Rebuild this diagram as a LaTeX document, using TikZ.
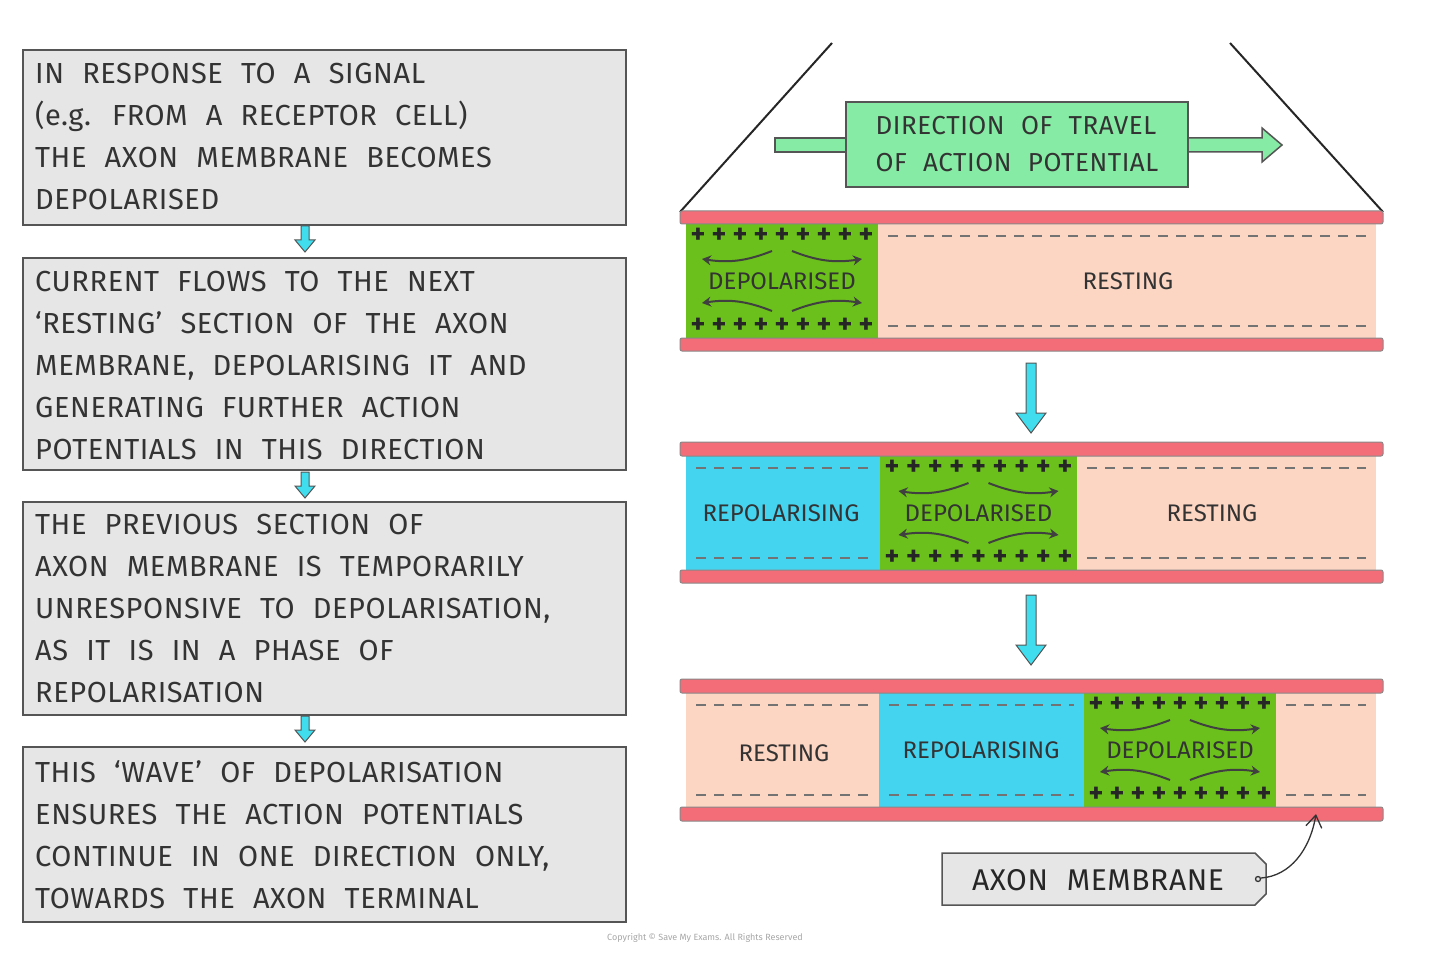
\documentclass[tikz,border=0pt]{standalone}
\usepackage{fontspec}
\setmainfont{Fira Sans}
\newfontfamily\widefont[WordSpace=2.2,LetterSpace=2]{Fira Sans}
\usetikzlibrary{arrows.meta}
\definecolor{mred}{HTML}{F26D78}
\definecolor{mgreen}{HTML}{6CC01C}
\definecolor{mpeach}{HTML}{FDD5C3}
\definecolor{mblue}{HTML}{45D4F0}
\definecolor{mcyan}{HTML}{40DDEE}
\definecolor{mgray}{HTML}{E6E6E6}
\definecolor{mline}{HTML}{555555}
\definecolor{mlgreen}{HTML}{86EBA4}
\tikzset{
 txtbox/.style={draw=mline,line width=2pt,fill=mgray},
 bar/.style={draw=mline!70,line width=1pt,fill=mred,rounded corners=2pt},
 lbl/.style={font=\fontsize{24}{28}\selectfont,text=black!80},
 boxtxt/.style={font=\widefont\fontsize{29}{42}\selectfont,text=black!80,align=left,anchor=north west,inner sep=0pt},
 darr/.style={-{Stealth[length=9pt,width=10pt]},line width=2pt,black!75},
 smallarr/.style={draw=mline,fill=mcyan,line width=1pt},
 dashrow/.style={dash pattern=on 10pt off 8pt,line width=1.8pt,black!55},
}
\newcommand{\plusrow}[3]{% x0 x1 y
 \foreach \i in {0,...,8}{\node[font=\fontsize{28}{28}\selectfont\bfseries,text=black!85,inner sep=0pt] at ({#1+12+\i*((#2)-(#1)-24)/8},#3) {+};}}
\newcommand{\depol}[4]{% x0 x1 ytop ybot
 \fill[mgreen] (#1,#3) rectangle (#2,#4);
 \plusrow{#1}{#2}{#3+12}
 \plusrow{#1}{#2}{#4-12}
 \pgfmathsetmacro{\xc}{(#1+#2)/2}\pgfmathsetmacro{\yc}{(#3+#4)/2}
 \node[lbl] at (\xc,\yc) {DEPOLARISED};
 \draw[darr] (\xc-10,\yc-30) to[bend left=15] (\xc-80,\yc-22);
 \draw[darr] (\xc+10,\yc-30) to[bend right=15] (\xc+80,\yc-22);
 \draw[darr] (\xc-10,\yc+30) to[bend right=15] (\xc-80,\yc+22);
 \draw[darr] (\xc+10,\yc+30) to[bend left=15] (\xc+80,\yc+22);}
\newcommand{\dashes}[4]{% x0 x1 ytop ybot
 \draw[dashrow] (#1+10,#3+12) -- (#2-10,#3+12);
 \draw[dashrow] (#1+10,#4-12) -- (#2-10,#4-12);}
\begin{document}
\begin{tikzpicture}[x=1pt,y=-1pt]
\useasboundingbox (0,0) rectangle (1440,976);
% left boxes
\draw[txtbox] (23,50) rectangle (626,225);
\node[boxtxt] (t1) at (35,63) {IN RESPONSE TO A SIGNAL\\(e.g. FROM A RECEPTOR CELL)\\THE AXON MEMBRANE BECOMES\\DEPOLARISED};
\draw[txtbox] (23,258) rectangle (626,470);
\node[boxtxt] (t2) at (35,271) {CURRENT FLOWS TO THE NEXT\\‘RESTING’ SECTION OF THE AXON\\MEMBRANE, DEPOLARISING IT AND\\GENERATING FURTHER ACTION\\POTENTIALS IN THIS DIRECTION};
\draw[txtbox] (23,502) rectangle (626,715);
\node[boxtxt] (t3) at (35,514) {THE PREVIOUS SECTION OF\\AXON MEMBRANE IS TEMPORARILY\\UNRESPONSIVE TO DEPOLARISATION,\\AS IT IS IN A PHASE OF\\REPOLARISATION};
\draw[txtbox] (23,747) rectangle (626,922);
\node[boxtxt] (t4) at (35,760) {THIS ‘WAVE’ OF DEPOLARISATION\\ENSURES THE ACTION POTENTIALS\\CONTINUE IN ONE DIRECTION ONLY,\\TOWARDS THE AXON TERMINAL};
% small arrows between boxes
\foreach \y in {226,472,716}{
 \draw[smallarr] (301,\y) -- (309,\y) -- (309,\y+14) -- (315,\y+14) -- (305,\y+26) -- (295,\y+14) -- (301,\y+14) -- cycle;}
% funnel
\draw[line width=2pt,black!85] (680,212) -- (832,43);
\draw[line width=2pt,black!85] (1383,212) -- (1230,43);
\draw[draw=mline,fill=mlgreen,line width=1.5pt] (775,138) -- (846,138) -- (846,152) -- (775,152) -- cycle;
\draw[draw=mline,fill=mlgreen,line width=1.5pt] (1188,138) -- (1262,138) -- (1262,128) -- (1282,145) -- (1262,162) -- (1262,152) -- (1188,152) -- cycle;
\node[draw=mline,fill=mlgreen,line width=1.5pt,minimum width=342pt,minimum height=85pt,font=\widefont\fontsize{26}{37}\selectfont,align=left,text=black!80] (dir) at (1017,144.5) {DIRECTION OF TRAVEL\\OF ACTION POTENTIAL};
% panel 1
\fill[mpeach] (686,224) rectangle (1376,338);
\depol{686}{878}{224}{338}
\dashes{878}{1376}{224}{338}
\node[lbl] (r1) at (1128,281) {RESTING};
\draw[bar] (680,211) rectangle (1383,224);
\draw[bar] (680,338) rectangle (1383,351);
% panel 2
\fill[mpeach] (686,456) rectangle (1376,570);
\fill[mblue] (686,456) rectangle (880,570);
\dashes{686}{880}{456}{570}
\node[lbl] (rp2) at (781,513) {REPOLARISING};
\depol{880}{1077}{456}{570}
\dashes{1077}{1376}{456}{570}
\node[lbl] (r2) at (1212,513) {RESTING};
\draw[bar] (680,442) rectangle (1383,456);
\draw[bar] (680,570) rectangle (1383,583);
% panel 3
\fill[mpeach] (686,693) rectangle (1376,807);
\fill[mblue] (879,693) rectangle (1084,807);
\dashes{686}{879}{693}{807}
\node[lbl] (r3) at (784,753) {RESTING};
\dashes{879}{1084}{693}{807}
\node[lbl] (rp3) at (981,750) {REPOLARISING};
\depol{1084}{1276}{693}{807}
\dashes{1276}{1376}{693}{807}
\draw[bar] (680,679) rectangle (1383,693);
\draw[bar] (680,807) rectangle (1383,821);
% down arrows
\foreach \y in {363,595}{
 \draw[smallarr] (1026,\y) -- (1036,\y) -- (1036,\y+50) -- (1046,\y+50) -- (1031,\y+70) -- (1016,\y+50) -- (1026,\y+50) -- cycle;}
% label
\draw[draw=mline,fill=mgray,line width=1.5pt] (942,853) -- (1255,853) -- (1266,864) -- (1266,894) -- (1255,905) -- (942,905) -- cycle;
\node[font=\widefont\fontsize{30}{32}\selectfont,text=black!85] (am) at (1098,880) {AXON MEMBRANE};
\coordinate (tip) at (1316,814);
\draw[line width=1.3pt,black!80] (1258,879) circle (2.5pt);
\draw[-{Straight Barb[length=12pt,width=16pt]},line width=1.3pt,black!80] (1261,878) .. controls (1290,876) and (1310,850) .. (tip);
\node[font=\fontsize{9}{9}\selectfont,text=black!35] (cp) at (705,938) {Copyright © Save My Exams. All Rights Reserved};
\end{tikzpicture}
\end{document}
